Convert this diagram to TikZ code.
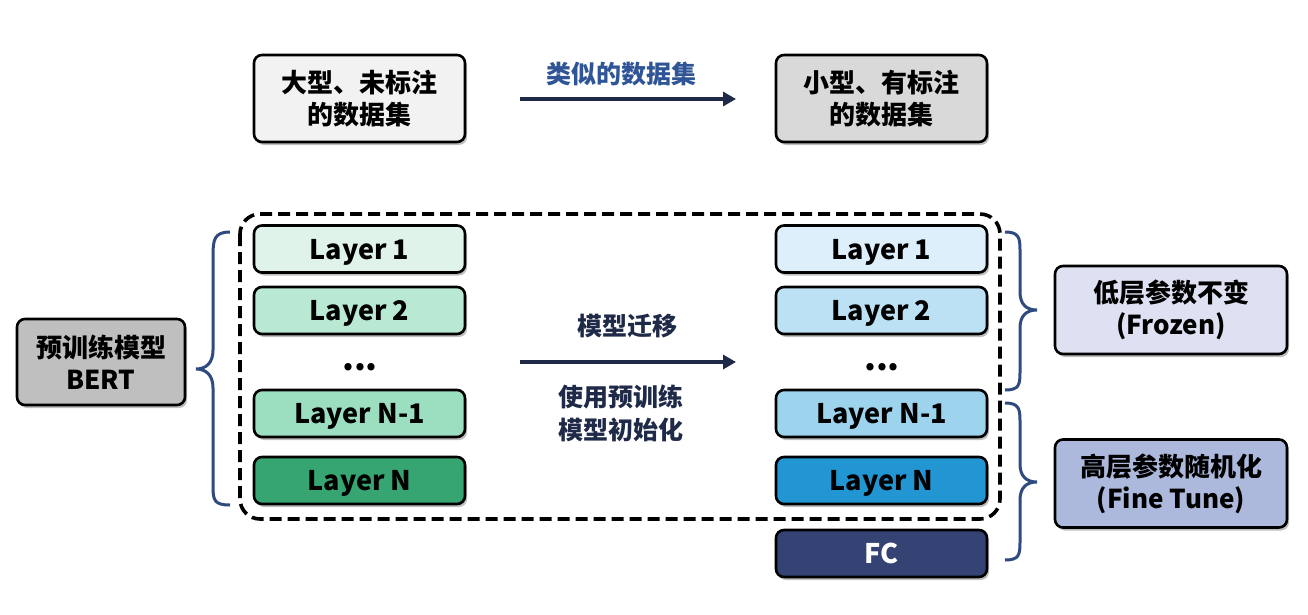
\documentclass[tikz,border=0pt]{standalone}
\usepackage{fontspec}
\setmainfont{Noto Sans CJK SC}[BoldFont={Noto Sans CJK SC Black}]
\usetikzlibrary{shadows,arrows.meta}
\definecolor{navy}{HTML}{1F2A48}
\definecolor{bracec}{HTML}{2F4A7F}
\definecolor{bluetxt}{HTML}{2F5597}
\definecolor{gA}{HTML}{DFF3EA}
\definecolor{gB}{HTML}{BAE9D3}
\definecolor{gC}{HTML}{9CDEC0}
\definecolor{gD}{HTML}{36A572}
\definecolor{bA}{HTML}{DDEFFA}
\definecolor{bB}{HTML}{BDE1F4}
\definecolor{bC}{HTML}{9ED3EE}
\definecolor{bD}{HTML}{2196D3}
\definecolor{fcc}{HTML}{344373}
\definecolor{frz}{HTML}{DEE1F1}
\definecolor{fine}{HTML}{ADB9DC}
\tikzset{
  box/.style={draw=black, line width=2.6pt, rounded corners=8pt, align=center,
    font=\fontsize{26}{32}\selectfont\bfseries, inner sep=0pt,
    drop shadow={shadow xshift=2pt, shadow yshift=-3pt, opacity=0.25, fill=black}},
  layer/.style={box, minimum width=211pt, minimum height=47pt, font=\fontsize{27}{30}\selectfont\bfseries,
    text height=23pt, text depth=3pt},
  bigbox/.style={box, minimum width=211pt, minimum height=87pt},
  sidebox/.style={box, minimum width=232pt, minimum height=88pt},
  arr/.style={draw=navy, line width=3.5pt, -{Triangle[length=13pt,width=14pt]}},
  brc/.style={draw=bracec, line width=3pt},
  lbl/.style={font=\fontsize{25}{33}\selectfont\bfseries, align=center, text=navy},
  dots/.style={font=\fontsize{34}{34}\selectfont\bfseries},
}
\begin{document}
\begin{tikzpicture}[x=1pt,y=-1pt]
\useasboundingbox (0,0) rectangle (1308,615);
% top
\node[bigbox, fill=black!5] (big) at (359.5,98.5) {大型、未标注\\的数据集};
\node[bigbox, fill=black!15] (small) at (881.5,98.5) {小型、有标注\\的数据集};
\coordinate (t1) at (520,99);
\coordinate (t2) at (736,99);
\draw[arr] (t1) -- (t2);
\node[lbl, text=bluetxt] (sim) at (621,74) {类似的数据集};
% dashed frame
\draw[line width=3.6pt, dash pattern=on 12pt off 6pt, rounded corners=20pt] (240,214) rectangle (1000,519);
% left layers
\node[layer, fill=gA] (l1) at (359.5,249) {Layer 1};
\node[layer, fill=gB] (l2) at (359.5,310.5) {Layer 2};
\node[dots] (ld) at (360,367) {...};
\node[layer, fill=gC] (l3) at (359.5,413.5) {Layer N-1};
\node[layer, fill=gD] (l4) at (359.5,480.5) {Layer N};
% right layers
\node[layer, fill=bA] (r1) at (881.5,249) {Layer 1};
\node[layer, fill=bB] (r2) at (881.5,310.5) {Layer 2};
\node[dots] (rd) at (882,367) {...};
\node[layer, fill=bC] (r3) at (881.5,413.5) {Layer N-1};
\node[layer, fill=bD] (r4) at (881.5,480.5) {Layer N};
\node[layer, fill=fcc, text=white] (fc) at (881.5,553.5) {FC};
% middle arrow
\coordinate (m1) at (520,362);
\coordinate (m2) at (736,362);
\draw[arr] (m1) -- (m2);
\node[lbl] (mig) at (627,326) {模型迁移};
\node[lbl] (init) at (621,413) {使用预训练\\模型初始化};
% left box
\node[box, fill=black!25, minimum width=168pt, minimum height=86pt] (bert) at (101,362) {预训练模型\\BERT};
% braces
\draw[brc] (230,232) .. controls (214,232) and (213,240) .. (213,256) -- (213,350)
  .. controls (213,363) and (206,369) .. (196,369)
  .. controls (206,369) and (213,375) .. (213,388) -- (213,486)
  .. controls (213,500) and (214,505) .. (230,505);
\draw[brc] (1005,232) .. controls (1019,232) and (1020,238) .. (1020,250) -- (1020,292)
  .. controls (1020,304) and (1026,310) .. (1037,310)
  .. controls (1026,310) and (1020,316) .. (1020,328) -- (1020,372)
  .. controls (1020,385) and (1019,390) .. (1005,390);
\draw[brc] (1005,403) .. controls (1019,403) and (1020,409) .. (1020,421) -- (1020,464)
  .. controls (1020,476) and (1026,482) .. (1037,482)
  .. controls (1026,482) and (1020,488) .. (1020,500) -- (1020,542)
  .. controls (1020,555) and (1019,560) .. (1005,560);
% right boxes
\node[sidebox, fill=frz] (frozen) at (1171,310) {低层参数不变\\(Frozen)};
\node[sidebox, fill=fine] (tune) at (1171,483.5) {高层参数随机化\\(Fine Tune)};
\end{tikzpicture}
\end{document}
